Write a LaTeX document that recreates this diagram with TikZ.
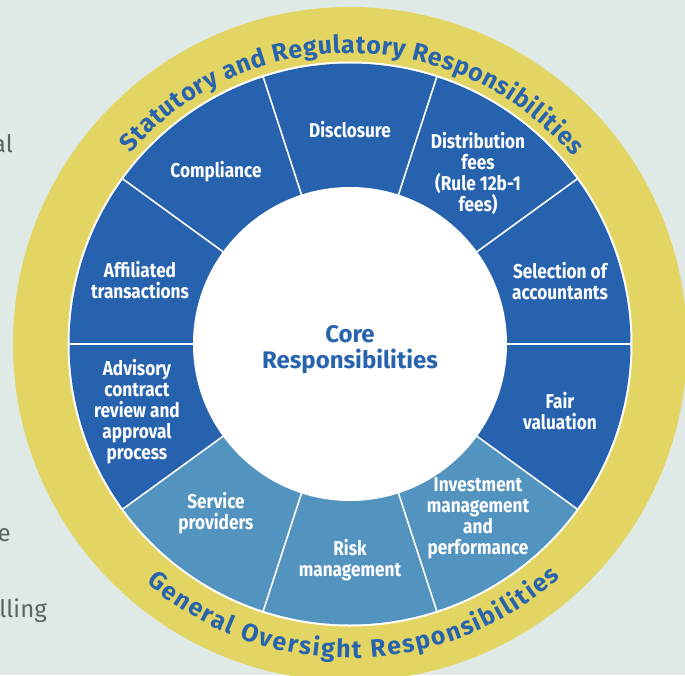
\documentclass[tikz,border=0pt]{standalone}
\usepackage{fontspec}
\setmainfont{Fira Sans}
\newfontfamily\condfont[FakeStretch=0.86]{Fira Sans}
\usetikzlibrary{decorations.text}
\definecolor{bgcol}{HTML}{DFEAE7}
\definecolor{ringyellow}{HTML}{E3D564}
\definecolor{darkblue}{HTML}{2762AE}
\definecolor{lightblue}{HTML}{5393C0}
\definecolor{txtblue}{HTML}{2863AE}
\definecolor{graytxt}{HTML}{5A6262}
\tikzset{
  seglabel/.style={text=white, align=center, font=\condfont\bfseries\fontsize{20}{21}\selectfont, inner sep=0pt},
  sidetext/.style={text=graytxt, font=\fontsize{24}{28}\selectfont, inner sep=0pt, anchor=base east},
  divider/.style={white, line width=1.6pt},
}
\begin{document}
\begin{tikzpicture}[x=1pt,y=1pt]
\useasboundingbox (-350,-331) rectangle (335,344);
\fill[bgcol] (-350,-331) rectangle (335,344);
% side text fragments
\node[sidetext] (t1) at (-337,192) {al};
\node[sidetext] (t2) at (-339,-197) {e};
\node[sidetext] (t3) at (-303,-273) {lling};
% rings
\coordinate (O) at (0,0);
\fill[ringyellow] (O) circle (337);
\fill[white] (O) circle (282.5);
\foreach \a/\c in {0/darkblue,36/darkblue,72/darkblue,108/darkblue,144/darkblue,180/darkblue,216/lightblue,252/lightblue,288/lightblue,324/darkblue}{
  \fill[\c] (O) -- (\a:280.5) arc[start angle=\a, end angle=\a+36, radius=280.5] -- cycle;
}
\foreach \a in {0,36,...,324}{
  \draw[divider] (\a:150) -- (\a:282);
}
\fill[white] (O) circle (157);
% labels
\node[seglabel] (sel) at (210,63) {Selection of\\accountants};
\node[seglabel] (dist) at (128,171) {Distribution\\fees\\(Rule 12b-1\\fees)};
\node[seglabel] (disc) at (0,214) {Disclosure};
\node[seglabel] (comp) at (-134,172) {Compliance};
\node[seglabel] (aff) at (-210,64) {Affiliated\\transactions};
\node[seglabel] (adv) at (-213,-68) {Advisory\\contract\\review and\\approval\\process};
\node[seglabel] (serv) at (-134,-169) {Service\\providers};
\node[seglabel] (risk) at (0,-216) {Risk\\management};
\node[seglabel] (inv) at (128,-174) {Investment\\management\\and\\performance};
\node[seglabel] (fair) at (210,-67) {Fair\\valuation};
\node[text=txtblue, align=center, font=\bfseries\fontsize{24}{26}\selectfont, inner sep=0pt] (core) at (0,-6) {Core\\Responsibilities};
% ring texts
\path[decorate, decoration={text along path, text align=fit to path,
  text={|\fontsize{25}{27}\selectfont\bfseries\color{txtblue}|Statutory and Regulatory Responsibilities}}]
  (139:291) arc[start angle=139, end angle=40, radius=291];
\path[decorate, decoration={text along path, text align=fit to path,
  text={|\fontsize{25}{27}\selectfont\bfseries\color{txtblue}|General Oversight Responsibilities}}]
  (229.5:314) arc[start angle=229.5, end angle=312, radius=314];
\end{tikzpicture}
\end{document}
